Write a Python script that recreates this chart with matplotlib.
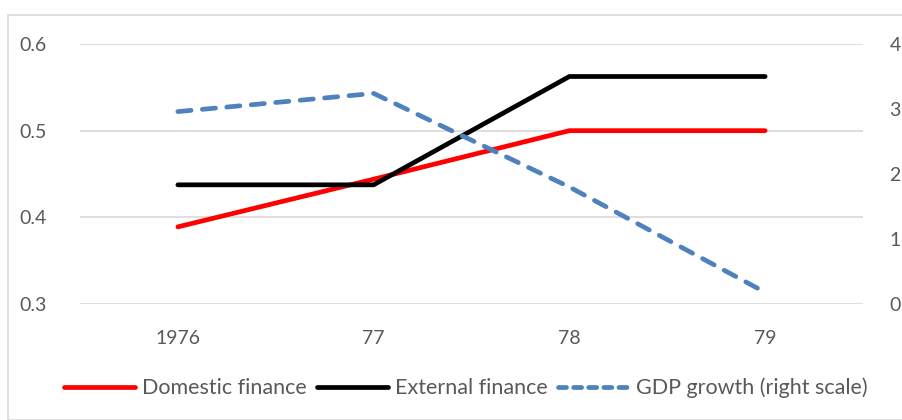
import matplotlib
matplotlib.use("Agg")
import matplotlib.pyplot as plt
from matplotlib.patches import Rectangle
from matplotlib.lines import Line2D

categories = ["1976", "77", "78", "79"]
domestic = [0.389, 0.444, 0.5, 0.5]
external = [0.4375, 0.4375, 0.5625, 0.5625]
gdp = [2.96, 3.24, 1.80, 0.18]
left_ticks = [0.3, 0.4, 0.5, 0.6]
right_ticks = [0, 1, 2, 3, 4]

plt.rcParams['font.family'] = ['Lato', 'DejaVu Sans']
txt = '#595959'
grid = '#d9d9d9'

fig = plt.figure(figsize=(9.02, 4.2), dpi=100)
fig.patches.append(Rectangle((8/902, 0.0), 1.0, 1 - 15/420, transform=fig.transFigure,
                             fill=False, edgecolor=grid, linewidth=1.2))
ax = fig.add_axes([80/902, 1 - 304/420, (863-80)/902, (304-44)/420])
ax2 = ax.twinx()

x = list(range(len(categories)))
lw = 3.4
l1, = ax.plot(x, domestic, color='#ff0000', lw=lw, solid_capstyle='round', zorder=3)
l2, = ax.plot(x, external, color='#000000', lw=lw, solid_capstyle='round', zorder=3)
l3, = ax2.plot(x, gdp, color='#4f81bd', lw=lw, dashes=(2.8, 2.4), dash_capstyle='round', zorder=3)

ax.set_xlim(-0.5, len(categories) - 0.5)
ax.set_ylim(0.3, 0.6)
ax2.set_ylim(0, 4)
ax.set_yticks(left_ticks)
ax.set_yticklabels([f"{v:.1f}" for v in left_ticks])
ax2.set_yticks(right_ticks)
ax2.set_yticklabels([str(v) for v in right_ticks])
ax.set_xticks(x)
ax.set_xticklabels(categories)

for a in (ax, ax2):
    for s in a.spines.values():
        s.set_visible(False)
ax.yaxis.grid(True, color=grid, lw=1.2)
ax.set_axisbelow(True)
ax.tick_params(axis='both', length=0, labelsize=14, colors=txt)
ax.tick_params(axis='y', pad=24)
ax.tick_params(axis='x', pad=19)
ax2.tick_params(axis='y', length=0, labelsize=14, colors=txt, pad=19)

handles = [Line2D([], [], color='#ff0000', lw=lw, solid_capstyle='round'),
           Line2D([], [], color='#000000', lw=lw, solid_capstyle='round'),
           Line2D([], [], color='#4f81bd', lw=lw, dashes=(1.7, 1.5), dash_capstyle='round')]
leg = fig.legend(handles, ["Domestic finance", "External finance", "GDP growth (right scale)"],
                 loc='center', bbox_to_anchor=(466/902, 1 - 388/420), ncol=3, frameon=False,
                 fontsize=15.5, handlelength=3.3, handletextpad=0.35, columnspacing=0.45)
for t in leg.get_texts():
    t.set_color(txt)

fig.savefig("out.png", dpi=100)
